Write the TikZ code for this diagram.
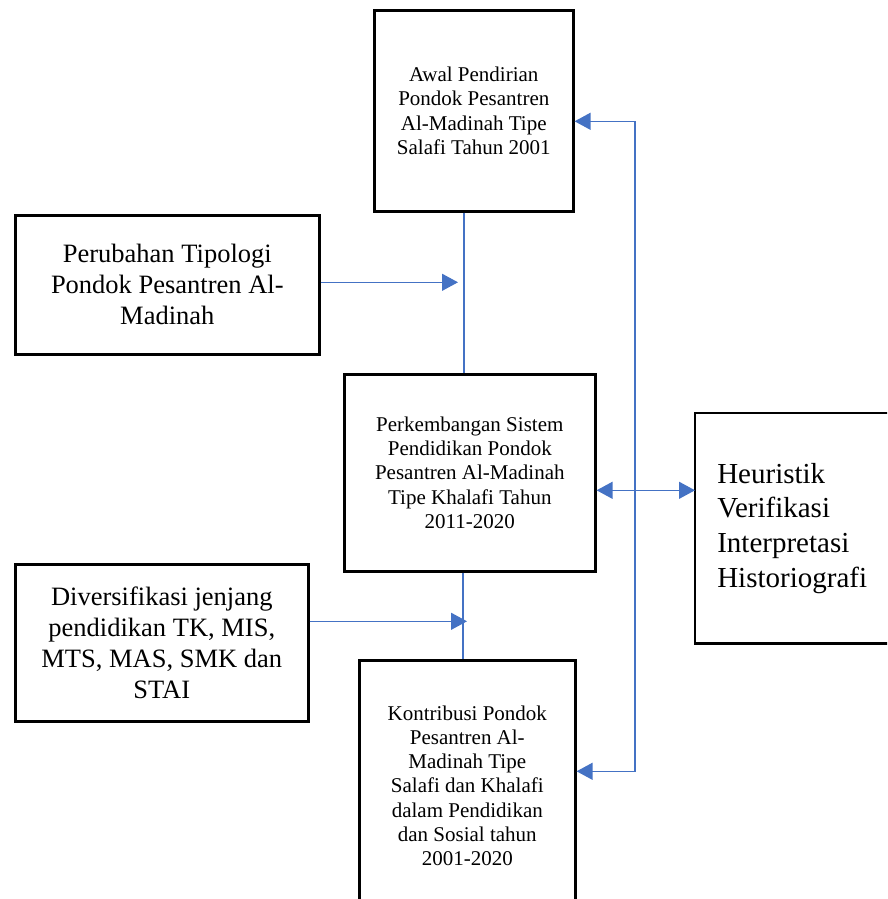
\documentclass[tikz,border=0pt]{standalone}
\usepackage{fontspec}
\setmainfont{Liberation Serif}
\usetikzlibrary{arrows.meta}
\definecolor{biru}{HTML}{4472C4}
\begin{document}
\begin{tikzpicture}[x=1pt,y=-1pt,
	kotak/.style={draw,line width=2.6pt,inner sep=0pt,anchor=north west,align=center},
	kecil/.style={font=\fontsize{21}{24.3}\selectfont},
	besar/.style={font=\fontsize{26.5}{31}\selectfont},
	garis/.style={draw=biru,line width=1.3pt},
	panah/.style={garis,-{Triangle[length=16pt,width=17pt]}},
	panahdua/.style={garis,{Triangle[length=16pt,width=17pt]}-{Triangle[length=16pt,width=17pt]}}]
	\useasboundingbox (0,0) rectangle (887,899);
	\clip (0,0) rectangle (887,899);
	\node[kotak,kecil,minimum width=199pt,minimum height=201pt](awal) at (373,9){Awal Pendirian\\Pondok Pesantren\\Al-Madinah Tipe\\Salafi Tahun 2001};
	\node[kotak,besar,minimum width=304pt,minimum height=139pt](ubah) at (14,214){Perubahan Tipologi\\Pondok Pesantren Al-\\Madinah};
	\node[kotak,kecil,minimum width=251pt,minimum height=197pt](kembang) at (343,373){Perkembangan Sistem\\Pendidikan Pondok\\Pesantren Al-Madinah\\Tipe Khalafi Tahun\\2011-2020};
	\node[kotak,draw=none,align=left,font=\fontsize{29}{34.7}\selectfont,text width=178pt,inner xsep=21pt,minimum height=228pt](metode) at (695,413){Heuristik\\Verifikasi\\Interpretasi\\Historiografi};
	\draw[line width=2.6pt] (metode.north east) -- (metode.north west) -- (metode.south west) -- (metode.south east);
	\node[kotak,besar,minimum width=293pt,minimum height=157pt](jenjang) at (14,563){Diversifikasi jenjang\\pendidikan TK, MIS,\\MTS, MAS, SMK dan\\STAI};
	\node[kotak,kecil,minimum width=216pt,minimum height=251pt](kontribusi) at (358,659){Kontribusi Pondok\\Pesantren Al-\\Madinah Tipe\\Salafi dan Khalafi\\dalam Pendidikan\\dan Sosial tahun\\2001-2020};
	% garis tengah
	\coordinate (t1) at (464,0);
	\coordinate (t2) at (463,0);
	\coordinate (k) at (635,450);
	\draw[garis] (awal.south -| t1) -- (kembang.north -| t1);
	\draw[garis] (kembang.south -| t2) -- (kontribusi.north -| t2);
	\draw[panah] ([yshift=2.5pt]ubah.east) -- ([yshift=2.5pt]ubah.east -| 458,0);
	\draw[panah] ([yshift=21.5pt]jenjang.east) -- ([yshift=21.5pt]jenjang.east -| 467,0);
	% garis samping
	\draw[panahdua] ([yshift=-10.5pt]awal.east) -| (k) |- ([yshift=14.5pt]kontribusi.east);
	\draw[panahdua] ([yshift=-17.5pt]kembang.east) -- ([yshift=-17.5pt]kembang.east -| metode.west);
\end{tikzpicture}
\end{document}
